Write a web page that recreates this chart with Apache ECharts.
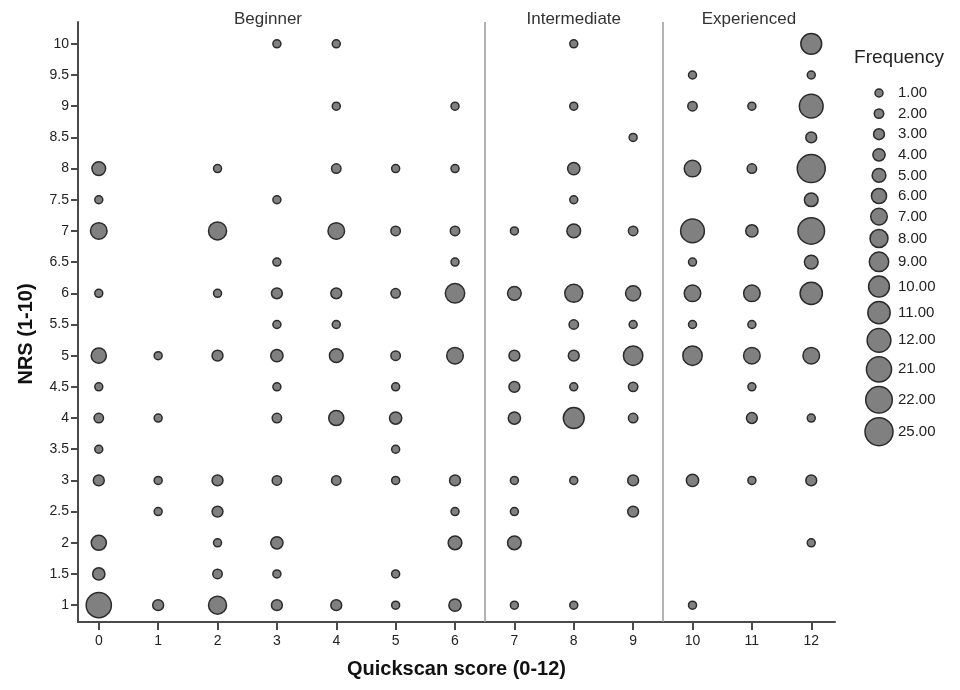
<!DOCTYPE html>
<html>
<head>
<meta charset="utf-8">
<script src="https://cdn.jsdelivr.net/npm/echarts@6/dist/echarts.min.js"></script>
<style>
  html, body { margin: 0; padding: 0; background: #ffffff; }
  #chart { width: 960px; height: 690px; }
</style>
</head>
<body>
<div id="chart"></div>
<script>
// Quickscan score (x), NRS rating (y) and how many respondents share that pair.
const quickscan = [
  0,0,0,0,0,0,0,0,0,0,0,0,
  1,1,1,1,1,
  2,2,2,2,2,2,2,2,2,
  3,3,3,3,3,3,3,3,3,3,3,3,
  4,4,4,4,4,4,4,4,4,4,
  5,5,5,5,5,5,5,5,5,5,
  6,6,6,6,6,6,6,6,6,6,
  7,7,7,7,7,7,7,7,7,
  8,8,8,8,8,8,8,8,8,8,8,8,
  9,9,9,9,9,9,9,9,9,
  10,10,10,10,10,10,10,10,10,10,
  11,11,11,11,11,11,11,11,11,
  12,12,12,12,12,12,12,12,12,12,12,12,12
];
const nrs = [
  8,7.5,7,6,5,4.5,4,3.5,3,2,1.5,1,
  5,4,3,2.5,1,
  8,7,6,5,3,2.5,2,1.5,1,
  10,7.5,6.5,6,5.5,5,4.5,4,3,2,1.5,1,
  10,9,8,7,6,5.5,5,4,3,1,
  8,7,6,5,4.5,4,3.5,3,1.5,1,
  9,8,7,6.5,6,5,3,2.5,2,1,
  7,6,5,4.5,4,3,2.5,2,1,
  10,9,8,7.5,7,6,5.5,5,4.5,4,3,1,
  8.5,7,6,5.5,5,4.5,4,3,2.5,
  9.5,9,8,7,6.5,6,5.5,5,3,1,
  9,8,7,6,5.5,5,4.5,4,3,
  10,9.5,9,8.5,8,7.5,7,6.5,6,5,4,3,2
];
const frequency = [
  5,1,7,1,6,1,2,1,3,6,4,21,
  1,1,1,1,3,
  1,8,1,3,3,3,1,2,8,
  1,1,1,3,1,4,1,2,2,4,1,3,
  1,1,2,7,3,1,5,6,2,3,
  1,2,2,2,1,4,1,1,1,1,
  1,1,2,1,9,7,3,1,5,4,
  1,5,3,3,4,1,1,5,1,
  1,1,4,1,5,8,2,3,1,10,1,1,
  1,2,6,1,9,2,2,3,3,
  1,2,7,12,1,7,1,9,4,1,
  1,2,4,7,1,7,1,3,1,
  10,1,12,3,25,5,22,5,11,7,1,3,1
];

// Distinct frequencies shown in the size key, smallest to largest.
const sizeLevels = [1, 2, 3, 4, 5, 6, 7, 8, 9, 10, 11, 12, 21, 22, 25];
const xTicks = [0, 1, 2, 3, 4, 5, 6, 7, 8, 9, 10, 11, 12];
const yTicks = [1, 1.5, 2, 2.5, 3, 3.5, 4, 4.5, 5, 5.5, 6, 6.5, 7, 7.5, 8, 8.5, 9, 9.5, 10];
const groupNames = ['Beginner', 'Intermediate', 'Experienced'];
const groupLabelAt = [2.85, 8, 10.95];
const groupBounds = [6.5, 9.5];

const FONT = '"Liberation Sans", Arial, sans-serif';
const MIN_SIZE = 8, MAX_SIZE = 28;
function sizeFor(f) {
  const i = sizeLevels.indexOf(f);
  return MIN_SIZE + i * (MAX_SIZE - MIN_SIZE) / (sizeLevels.length - 1);
}

const points = quickscan.map((x, i) => [x, nrs[i], frequency[i]]);

const chart = echarts.init(document.getElementById('chart'), null, { renderer: 'canvas' });

const axisCommon = {
  type: 'value',
  splitLine: { show: false },
  axisLine: { show: true, onZero: false, lineStyle: { color: '#4a4a4a', width: 2 } },
  nameTextStyle: { color: '#111', fontFamily: FONT, fontSize: 20, fontWeight: 'bold' }
};

chart.setOption({
  animation: false,
  backgroundColor: '#ffffff',
  grid: { left: 78, right: 125, top: 22, bottom: 68 },
  xAxis: Object.assign({}, axisCommon, {
    min: -0.35, max: 12.4,
    name: 'Quickscan score (0-12)',
    nameLocation: 'middle', nameGap: 37,
    axisTick: { show: true, length: 8, customValues: xTicks, lineStyle: { color: '#4a4a4a', width: 2 } },
    axisLabel: { color: '#222', fontFamily: FONT, fontSize: 14, margin: 12, customValues: xTicks }
  }),
  yAxis: Object.assign({}, axisCommon, {
    min: 0.73, max: 10.35,
    name: 'NRS (1-10)',
    nameLocation: 'middle', nameGap: 42,
    nameTextStyle: { color: '#111', fontFamily: FONT, fontSize: 20, fontWeight: 'bold', padding: [0, 24, 0, 0] },
    axisTick: { show: true, length: 7, customValues: yTicks, lineStyle: { color: '#4a4a4a', width: 2 } },
    axisLabel: { color: '#222', fontFamily: FONT, fontSize: 14, margin: 9, customValues: yTicks }
  }),
  series: [{
    type: 'scatter',
    data: points,
    symbol: 'circle',
    symbolSize: (v) => sizeFor(v[2]),
    itemStyle: { color: '#808080', borderColor: '#2b2b2b', borderWidth: 1.5, opacity: 1 },
    markLine: {
      silent: true,
      symbol: 'none',
      label: { show: false },
      lineStyle: { color: '#9a9a9a', width: 1.5, type: 'solid' },
      data: groupBounds.map(v => ({ xAxis: v }))
    }
  }]
});

// Group captions along the top edge and the frequency size key.
const graphics = [];
groupNames.forEach((name, i) => {
  const p = chart.convertToPixel({ gridIndex: 0 }, [groupLabelAt[i], 10.35]);
  graphics.push({
    type: 'text', x: p[0], y: 19,
    style: { text: name, font: '17px ' + FONT, fill: '#333', align: 'center', verticalAlign: 'middle' }
  });
});

graphics.push({
  type: 'text', x: 899, y: 58,
  style: { text: 'Frequency', font: '19px ' + FONT, fill: '#222', align: 'center', verticalAlign: 'middle' }
});

const keyX = 879, keyTop = 93, keyGap = 4.6;
let keyY = keyTop;
sizeLevels.forEach((f, i) => {
  if (i > 0) {
    const a = sizeFor(sizeLevels[i - 1]), b = sizeFor(f);
    keyY += Math.max(16, (a + b) / 2) + keyGap;
  }
  graphics.push({
    type: 'circle',
    shape: { cx: keyX, cy: keyY, r: sizeFor(f) / 2 },
    style: { fill: '#808080', stroke: '#2b2b2b', lineWidth: 1.5 }
  });
  graphics.push({
    type: 'text', x: 898, y: keyY,
    style: { text: f.toFixed(2), font: '15px ' + FONT, fill: '#222', align: 'left', verticalAlign: 'middle' }
  });
});

chart.setOption({ graphic: graphics });
</script>
</body>
</html>
